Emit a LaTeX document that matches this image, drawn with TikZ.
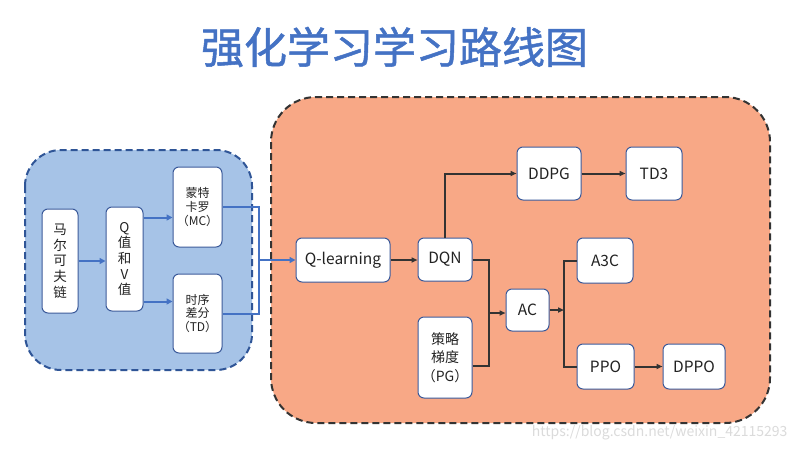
\documentclass[tikz,border=0pt]{standalone}
\usepackage{fontspec}
\setmainfont{Noto Sans CJK SC}
\newfontfamily\titlefont[FakeBold=1.2]{Noto Sans CJK SC}
\usetikzlibrary{arrows.meta}
\definecolor{titleblue}{HTML}{4472C4}
\definecolor{lblue}{HTML}{A6C3E7}
\definecolor{dblue}{HTML}{2F5597}
\definecolor{salmon}{HTML}{F8A886}
\definecolor{dgray}{HTML}{333333}
\definecolor{nodeborder}{HTML}{3B5A9A}
\definecolor{txt}{HTML}{222222}
\tikzset{
  box/.style={draw=nodeborder, line width=1pt, fill=white, rounded corners=6pt,
    inner sep=0pt, align=center, text=txt},
  vtext/.style={font=\fontsize{13.5}{15.7}\selectfont},
  smalltext/.style={font=\fontsize{12}{14}\selectfont},
  midtext/.style={font=\fontsize{14}{18.5}\selectfont},
  bigtext/.style={font=\fontsize{15.5}{18}\selectfont},
  bline/.style={draw=titleblue, line width=2pt},
  barrow/.style={bline, -{Triangle[length=6pt,width=6pt]}},
  dline/.style={draw=dgray, line width=2pt},
  darrow/.style={dline, -{Triangle[length=6pt,width=5pt]}},
  container/.style={line width=2pt, dash pattern=on 7pt off 4pt},
}
\begin{document}
\begin{tikzpicture}[x=1pt,y=-1pt]
\useasboundingbox (0,0) rectangle (800,450);
\fill[white] (0,0) rectangle (800,450);

% title
\node[text=titleblue, font=\fontsize{43}{50}\selectfont\titlefont] (title) at (394.5,47) {强化学习学习路线图};

% containers
\draw[container, draw=dblue, fill=lblue, rounded corners=36pt] (25,150) rectangle (252,370);
\draw[container, draw=dgray, fill=salmon, rounded corners=45pt] (271,97) rectangle (770,423);

% left group nodes
\node[box, vtext, minimum width=36, minimum height=104] (mk) at (60,261) {马\\尔\\可\\夫\\链};
\node[box, vtext, minimum width=37, minimum height=104] (qv) at (124.5,259) {Q\\值\\和\\V\\值};
\node[box, smalltext, minimum width=49, minimum height=80] (mc) at (197.5,207) {蒙特\\卡罗\\（MC）};
\node[box, smalltext, minimum width=49, minimum height=79] (td) at (197.5,313.5) {时序\\差分\\（TD）};

% right group nodes
\node[box, bigtext, minimum width=94, minimum height=44] (ql) at (343,260) {Q-learning};
\node[box, bigtext, minimum width=54, minimum height=43] (dqn) at (445,259.5) {DQN};
\node[box, midtext, minimum width=54, minimum height=81] (pg) at (445,357.5) {策略\\梯度\\（PG）};
\node[box, bigtext, minimum width=43, minimum height=42] (ac) at (527.5,310) {AC};
\node[box, bigtext, minimum width=64, minimum height=53] (ddpg) at (549,173.5) {DDPG};
\node[box, bigtext, minimum width=56, minimum height=53] (td3) at (654,173.5) {TD3};
\node[box, bigtext, minimum width=56, minimum height=45] (a3c) at (605,260.5) {A3C};
\node[box, bigtext, minimum width=57, minimum height=45] (ppo) at (605.5,366.5) {PPO};
\node[box, bigtext, minimum width=62, minimum height=45] (dppo) at (694,366.5) {DPPO};

% left connectors
\draw[barrow] (mk.east) -- (mk.east -| qv.west);
\coordinate (q1) at ([yshift=-11pt]qv.north east);
\coordinate (q2) at ([yshift=10pt]qv.south east);
\draw[barrow] (q1) -- (q1 -| mc.west);
\draw[barrow] (q2) -- (q2 -| td.west);
\coordinate (j1) at (259,260);
\draw[bline] (mc.east) -| (j1);
\draw[bline] (td.east) -| (j1);
\draw[barrow] (j1) -- (j1 -| ql.west);

% right connectors
\draw[darrow] (ql.east) -- (ql.east -| dqn.west);
\draw[darrow] (dqn.north) |- (ddpg.west);
\draw[darrow] (ddpg.east) -- (td3.west);
\coordinate (j2) at (489,313);
\coordinate (p1) at ([yshift=-8.5pt]pg.east);
\draw[dline] (dqn.east) -| (j2);
\draw[dline] (p1) -| (j2);
\draw[darrow] (j2) -- (j2 -| ac.west);
\coordinate (j3) at (564,310);
\draw[darrow] (ac.east) -- (j3);
\draw[dline] (a3c.west) -| (j3);
\draw[dline] (ppo.west) -| (j3);
\draw[darrow] (ppo.east) -- (dppo.west);

% watermark
\node[anchor=east, text=black!14, font=\fontsize{14}{16}\selectfont] (wm) at (791,433) {https://blog.csdn.net/weixin\_42115293};
\end{tikzpicture}
\end{document}
